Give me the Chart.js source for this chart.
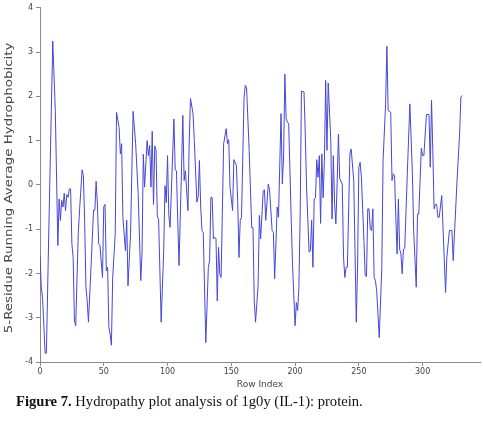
<!DOCTYPE html>
<html>
<head>
<meta charset="utf-8">
<script src="https://cdn.jsdelivr.net/npm/chart.js@4/dist/chart.umd.min.js"></script>
<style>
  body { margin: 0; background: #fff; }
  #wrap { position: relative; width: 483px; height: 421px; }
  #caption {
    position: absolute; left: 16px; top: 393px;
    font-family: "Liberation Serif", "Times New Roman", serif;
    font-size: 14.6px; color: #111; white-space: nowrap;
  }
</style>
</head>
<body>
<div id="wrap">
  <canvas id="chartHydro" width="483" height="421"></canvas>
  <div id="caption"><b>Figure 7.</b> Hydropathy plot analysis of 1g0y (IL-1): protein.</div>
</div>
<script>
// row index of each vertex
const rowIndex = [
  0, 1, 2, 4, 5, 7, 10, 12, 14, 15, 16, 17, 18, 19, 20, 21, 22, 23, 24, 25,
  26, 27, 28, 30, 31, 33, 34, 35, 36, 37, 38, 40, 42, 43, 44, 45, 46, 47, 49, 50,
  51, 52, 53, 54, 55, 56, 57, 59, 60, 62, 63, 64, 65, 67, 68, 69, 71, 73, 75, 77,
  79, 80, 81, 82, 84, 85, 86, 87, 88, 89, 90, 91, 92, 93, 95, 97, 98, 99, 100, 101,
  102, 105, 106, 107, 108, 109, 111, 112, 113, 114, 116, 117, 118, 120, 121, 123, 124, 125, 126, 127,
  128, 130, 132, 133, 134, 135, 136, 137, 138, 139, 140, 141, 142, 144, 146, 147, 148, 149, 151, 152,
  154, 155, 156, 157, 158, 160, 161, 162, 164, 166, 167, 168, 169, 171, 172, 173, 175, 176, 177, 179,
  180, 182, 183, 184, 186, 187, 189, 190, 191, 192, 193, 194, 195, 197, 198, 200, 201, 202, 203, 204,
  205, 207, 208, 209, 211, 212, 213, 214, 215, 216, 217, 218, 219, 220, 221, 222, 223, 224, 225, 226,
  228, 229, 230, 231, 232, 233, 234, 235, 237, 238, 239, 240, 241, 243, 244, 246, 247, 248, 249, 250,
  251, 252, 254, 255, 256, 257, 258, 259, 260, 261, 262, 263, 264, 266, 268, 269, 271, 272, 273, 275,
  276, 277, 278, 279, 280, 281, 282, 283, 284, 285, 286, 288, 290, 292, 293, 295, 296, 297, 299, 300,
  301, 303, 305, 306, 307, 308, 309, 310, 311, 312, 313, 315, 316, 318, 319, 321, 323, 324, 325, 327,
  329, 330, 331
];

// 5-residue running average hydrophobicity at those rows
const hydrophobicity = [
  -1.6, -2.3, -2.55, -3.8, -3.8, -0.9, 3.25, 1.68, -1.37, -0.32, -0.8, -0.35, -0.5, -0.19, -0.58, -0.22, -0.28, -0.09, -0.09, -1.33,
  -1.64, -3.07, -3.18, -1.1, -0.58, 0.34, 0.21, -0.8, -2.3, -2.62, -3.1, -1.86, -0.57, -0.57, 0.08, -0.43, -1.33, -1.37, -2.09, -0.49,
  -0.44, -1.94, -1.86, -3.22, -3.37, -3.62, -2.09, -1.1, 1.64, 1.3, 0.7, 0.93, -0.73, -1.49, -0.8, -2.28, -1.1, 1.66, 0.93, -0.2,
  -2.16, -1.56, 0.69, -0.05, 1.0, 0.66, 0.89, -0.05, 1.21, -0.44, 0.88, 0.78, -0.73, -0.77, -3.1, -1.49, -0.02, -0.4, 0.66, -0.69,
  -0.96, 1.49, 0.34, 0.32, -0.8, -1.82, 0.4, 1.57, 0.1, 0.32, -0.58, 0.97, 1.95, 1.61, 1.0, -0.39, -0.28, 0.55, -0.5, -1.03,
  -1.07, -3.56, -1.86, -1.71, -0.28, -0.29, -1.22, -1.18, -1.22, -2.62, -1.41, -2.01, -2.09, 0.93, 1.27, 0.93, 1.02, -0.05, -0.58, 0.57,
  0.44, -0.35, -1.64, -0.8, -0.73, 1.98, 2.25, 2.19, 0.78, -0.96, -0.96, -2.62, -3.1, -2.28, -0.69, -1.22, -0.14, -0.11, -0.8, 0.02,
  -0.11, -1.03, -1.07, -2.12, -0.5, -0.73, 1.61, 0.02, 0.63, 2.5, 1.49, 1.42, 1.38, -0.8, -1.79, -3.18, -2.66, -2.84, -2.31, -0.66,
  2.12, 2.1, 1.15, -0.05, -1.52, -1.49, -0.8, -1.86, -0.32, -0.29, 0.57, 0.17, 0.66, -0.87, 0.7, -0.29, 0.55, 2.36, 0.78, 2.3,
  1.0, -0.77, 0.66, -0.43, -0.88, 0.06, 1.15, 0.14, 0.02, -1.64, -2.09, -1.86, -1.86, 0.7, 0.81, 0.1, -1.49, -3.1, -1.86, 0.4,
  0.51, 0.17, -1.26, -2.05, -2.07, -0.54, -0.54, -1.0, -1.03, -0.54, -2.09, -2.16, -2.39, -3.45, -1.86, 0.55, 1.83, 3.13, 1.68, 1.64,
  0.1, 0.25, 0.21, -0.73, -1.56, -0.32, -1.45, -1.56, -2.01, -1.45, -1.43, 0.25, 1.83, 0.25, -1.03, -2.31, -0.66, -0.66, 0.83, 0.66,
  0.66, 1.59, 1.59, 0.4, 1.91, 0.78, -0.54, -0.44, -0.44, -0.73, -0.73, -0.24, -0.96, -2.43, -1.64, -1.03, -1.03, -1.71, -1.1, 0.1,
  1.15, 1.98, 2.02
];

const xTicks = [0, 50, 100, 150, 200, 250, 300];
const yTicks = [-4, -3, -2, -1, 0, 1, 2, 3, 4];
const yTitle = '5-Residue Running Average Hydrophobicity';

const points = rowIndex.map((r, i) => ({ x: r, y: hydrophobicity[i] }));

const axisColor = '#8a8a8a';
const tickFont = { family: 'DejaVu Sans', size: 8 };

// y title drawn by hand so it can be stretched along its length like the original
const yTitlePlugin = {
  id: 'yTitle',
  afterDraw(chart) {
    const c = chart.ctx;
    const area = chart.chartArea;
    c.save();
    c.translate(9, (area.top + area.bottom) / 2 + 3);
    c.rotate(-Math.PI / 2);
    c.scale(1.34, 1);
    c.font = '10px "DejaVu Sans"';
    c.fillStyle = '#444';
    c.textAlign = 'center';
    c.textBaseline = 'middle';
    c.fillText(yTitle, 0, 0);
    c.restore();
  }
};

const ctx = document.getElementById('chartHydro').getContext('2d');
new Chart(ctx, {
  type: 'line',
  data: {
    datasets: [{
      data: points,
      borderColor: '#4747d6',
      borderWidth: 1,
      pointRadius: 0,
      tension: 0,
      fill: false
    }]
  },
  options: {
    responsive: false,
    animation: false,
    layout: { padding: { top: 7, right: 3, bottom: 30, left: 0 } },
    plugins: { legend: { display: false }, tooltip: { enabled: false } },
    scales: {
      x: {
        type: 'linear',
        min: 0,
        max: 345,
        afterBuildTicks: s => { s.ticks = xTicks.map(v => ({ value: v })); },
        afterFit: s => { s.height = 29; },
        border: { color: axisColor, width: 1 },
        grid: { drawOnChartArea: false, color: axisColor, tickLength: 4 },
        ticks: { color: '#444', font: tickFont, padding: 1, maxRotation: 0 },
        title: { display: true, text: 'Row Index', color: '#444',
                 font: { family: 'DejaVu Sans', size: 9 }, padding: { top: 0, bottom: 1 } }
      },
      y: {
        min: -4,
        max: 4,
        afterBuildTicks: s => { s.ticks = yTicks.map(v => ({ value: v })); },
        afterFit: s => { s.width = 40; },
        border: { color: axisColor, width: 1 },
        grid: { drawOnChartArea: false, color: axisColor, tickLength: 4 },
        ticks: { color: '#444', font: tickFont, padding: 3 }
      }
    }
  },
  plugins: [yTitlePlugin]
});
</script>
</body>
</html>
